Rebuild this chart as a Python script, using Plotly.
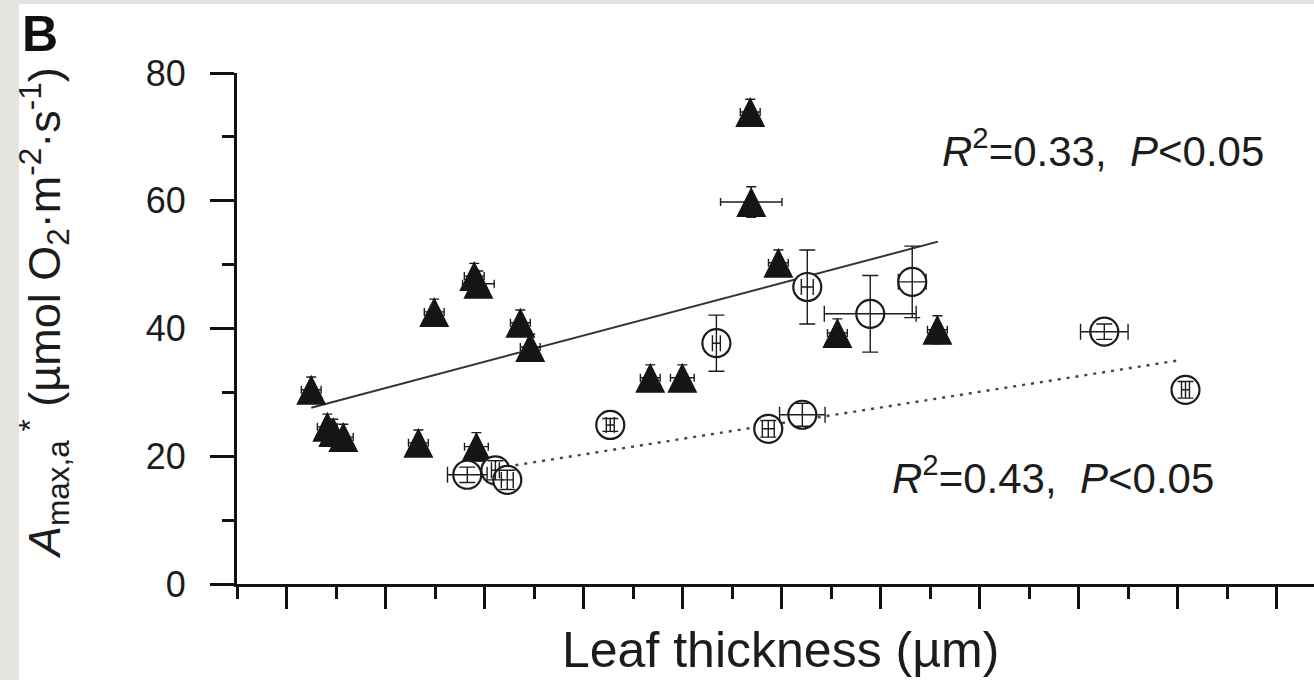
import plotly.graph_objects as go

# ---------------- data ----------------
# filled triangles (one group)
tri_x = [112.5, 120.6, 123.6, 128.7, 166.6, 174.6, 194.8, 196.9, 195.9, 218.1,
         223.1, 283.7, 299.9, 334.2, 334.7, 348.4, 378.2, 428.7]
tri_y = [30.4, 24.6, 23.8, 23.0, 22.1, 42.6, 48.2, 47.0, 21.5, 40.9,
         37.1, 32.3, 32.3, 73.9, 59.8, 50.3, 39.3, 39.8]
tri_ex = [5, 5, 5, 5, 5, 5, 5, 8, 6, 5,
          5, 5, 6, 5, 15.5, 5, 5, 5]
tri_ey = [2.0, 2.0, 2.0, 2.0, 2.0, 2.0, 2.0, 2.0, 2.2, 2.0,
          2.0, 2.0, 2.0, 2.0, 2.4, 2.0, 2.2, 2.2]

# open circles (other group)
cir_x = [191.3, 205.5, 211.5, 263.5, 317.1, 343.3, 360.5, 363.0, 394.8, 416.0, 513.0, 554.0]
cir_y = [17.1, 17.8, 16.3, 24.9, 37.7, 24.3, 26.5, 46.5, 42.3, 47.3, 39.5, 30.4]
cir_ex = [10, 2, 3, 2, 2, 3, 11.5, 3, 23.2, 7, 12, 2]
cir_ey = [1.2, 1.5, 1.5, 1.0, 4.4, 1.3, 1.8, 5.8, 6.0, 5.6, 1.2, 1.3]

# regression lines (end points)
fit_tri_x = [112.5, 429.0]
fit_tri_y = [27.6, 53.6]
fit_cir_x = [215.6, 550.4]
fit_cir_y = [18.6, 35.0]

ann_texts = ["<i>R</i><sup>2</sup>=0.33,  <i>P</i><0.05",
             "<i>R</i><sup>2</sup>=0.43,  <i>P</i><0.05"]
ann_x = [430.0, 405.0]
ann_y = [68.3, 17.1]

y_ticks = [0, 20, 40, 60, 80]
x_range = [75, 618.9]
y_range = [0, 80]

FONT = "Liberation Sans, Arial, Helvetica, sans-serif"
INK = "#1c1c1c"

# ---------------- figure ----------------
W, H = 1314, 680
ML, MR, MT, MB = 237, 0, 73, 96
PW, PH = W - ML - MR, H - MT - MB


def px_x(p):
    return (p - ML) / PW


def px_y(p):
    return (H - MB - p) / PH


fig = go.Figure()

fig.add_trace(go.Scatter(x=fit_tri_x, y=fit_tri_y, mode="lines",
                         line=dict(color="#333333", width=2), hoverinfo="skip"))
fig.add_trace(go.Scatter(x=fit_cir_x, y=fit_cir_y, mode="lines",
                         line=dict(color="#444444", width=2.4, dash="3px,6px"),
                         hoverinfo="skip"))

fig.add_trace(go.Scatter(
    x=tri_x, y=tri_y, mode="markers",
    marker=dict(symbol="arrow-down", angle=180, standoff=15, size=30,
                color="#151515", line=dict(width=0)),
    error_x=dict(type="data", array=tri_ex, color=INK, thickness=1.4, width=4),
    error_y=dict(type="data", array=tri_ey, color=INK, thickness=1.4, width=5),
))

fig.add_trace(go.Scatter(
    x=cir_x, y=cir_y, mode="markers",
    marker=dict(symbol="circle", size=28, color="white",
                line=dict(color=INK, width=2.2)),
))
# error bars of the circles, drawn over the open markers
fig.add_trace(go.Scatter(
    x=cir_x, y=cir_y, mode="markers",
    marker=dict(size=1, color="rgba(0,0,0,0)"),
    error_x=dict(type="data", array=cir_ex, color=INK, thickness=1.4, width=8),
    error_y=dict(type="data", array=cir_ey, color=INK, thickness=1.4, width=8),
    hoverinfo="skip",
))

annotations = []
for t, ax, ay in zip(ann_texts, ann_x, ann_y):
    annotations.append(dict(x=ax, y=ay, xref="x", yref="y", text=t, showarrow=False,
                            xanchor="left", yanchor="middle",
                            font=dict(family=FONT, size=42, color=INK)))

annotations.append(dict(x=px_x(20), y=px_y(4), xref="paper", yref="paper", text="<b>B</b>",
                        showarrow=False, xanchor="left", yanchor="top",
                        font=dict(family=FONT, size=50, color="#111111")))
annotations.append(dict(
    x=px_x(44), y=px_y(313), xref="paper", yref="paper", textangle=-90,
    text="<i>A</i><sub>max,a</sub><sup> *</sup> (µmol O<sub>2</sub>·m<sup>-2</sup>·s<sup>-1</sup>)",
    showarrow=False, xanchor="center", yanchor="middle",
    font=dict(family=FONT, size=45, color=INK)))
annotations.append(dict(
    x=px_x(780), y=px_y(650), xref="paper", yref="paper",
    text="Leaf thickness (µm)", showarrow=False, xanchor="center", yanchor="middle",
    font=dict(family=FONT, size=50, color=INK)))

shapes = [
    dict(type="rect", xref="paper", yref="paper", x0=px_x(0), x1=px_x(19), y0=px_y(H), y1=px_y(0),
         fillcolor="#e6e4e1", line=dict(width=0), layer="below"),
    dict(type="rect", xref="paper", yref="paper", x0=px_x(0), x1=px_x(W), y0=px_y(4), y1=px_y(0),
         fillcolor="#e6e4e1", line=dict(width=0), layer="below"),
]

fig.update_layout(
    width=W, height=H,
    margin=dict(l=ML, r=MR, t=MT, b=MB, pad=0),
    paper_bgcolor="white", plot_bgcolor="white",
    showlegend=False,
    font=dict(family=FONT, color=INK),
    annotations=annotations,
    shapes=shapes,
)

fig.update_xaxes(
    range=x_range, showgrid=False, zeroline=False,
    showline=True, linecolor="#111111", linewidth=3,
    ticks="outside", ticklen=22, tickwidth=3, tickcolor="#111111",
    tick0=100, dtick=50, showticklabels=False,
    minor=dict(ticks="outside", ticklen=12, tickwidth=3, tickcolor="#111111",
               tick0=75, dtick=25),
)
fig.update_yaxes(
    range=y_range, showgrid=False, zeroline=False,
    showline=True, linecolor="#111111", linewidth=3,
    ticks="outside", ticklen=24, tickwidth=3, tickcolor="#111111",
    tickvals=y_ticks, ticktext=[str(v) for v in y_ticks],
    tickfont=dict(family=FONT, size=36, color=INK),
    ticklabelstandoff=17,
    minor=dict(ticks="outside", ticklen=12, tickwidth=3, tickcolor="#111111",
               tick0=10, dtick=20),
)

fig.write_html("out.html", config={"displayModeBar": False},
               post_script="document.body.style.margin='0px';document.body.style.overflow='hidden';")
